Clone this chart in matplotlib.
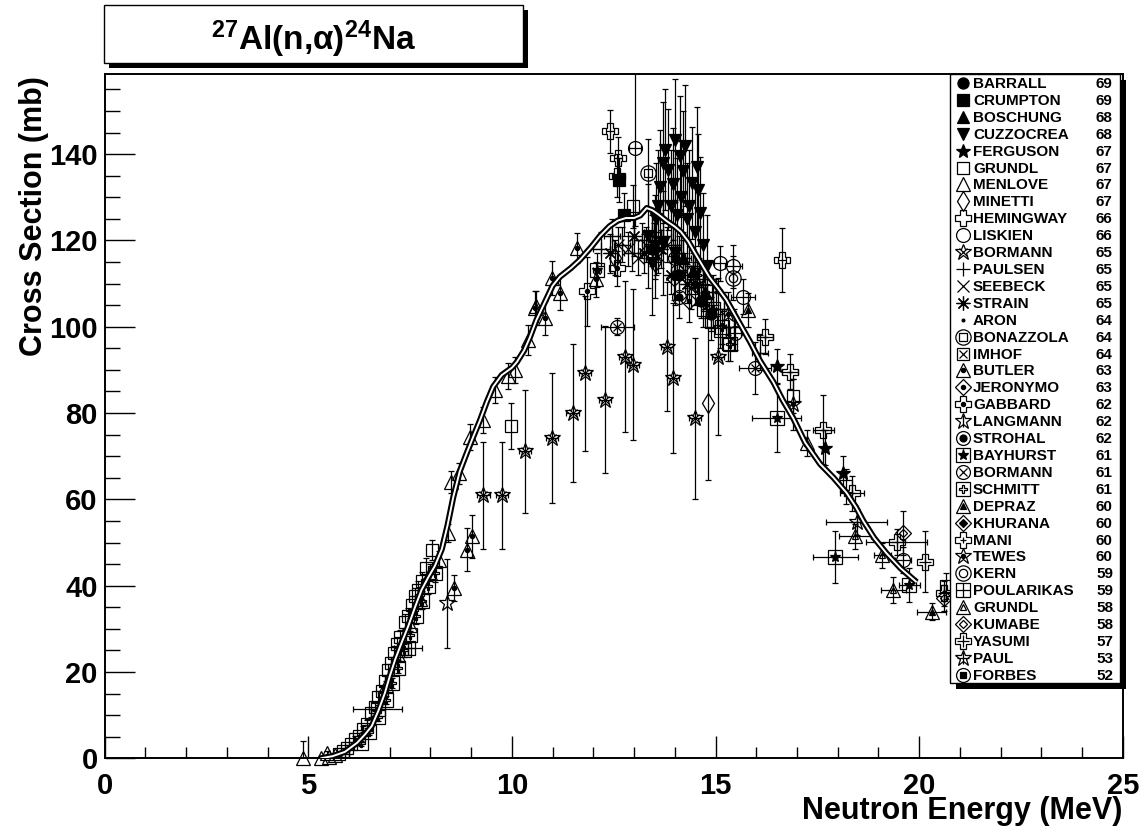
import matplotlib
matplotlib.use('Agg')
import matplotlib.pyplot as plt
from matplotlib.patches import Rectangle
from matplotlib.ticker import MultipleLocator
import numpy as np

plt.rcParams['font.family'] = ['Liberation Sans', 'DejaVu Sans']
plt.rcParams['font.weight'] = 'bold'
plt.rcParams['mathtext.fontset'] = 'custom'
plt.rcParams['mathtext.rm'] = 'Liberation Sans'
plt.rcParams['mathtext.bf'] = 'Liberation Sans:bold'
plt.rcParams['mathtext.it'] = 'Liberation Sans:italic'

# ---------------- evaluation curve ----------------
CURVE_E = [5.30, 5.60, 5.90, 6.20, 6.40, 6.56, 6.72, 6.88, 7.00, 7.13, 7.30, 7.45, 7.62, 7.78,
           7.95, 8.11, 8.28, 8.42, 8.56, 8.72, 8.89, 9.05, 9.22, 9.38, 9.54, 9.75, 10.00, 10.12,
           10.30, 10.44, 10.60, 10.80, 11.00, 11.18, 11.45, 11.67, 11.95, 12.16, 12.40, 12.60,
           12.80, 13.00, 13.15, 13.31, 13.45, 13.60, 13.80, 14.00, 14.15, 14.33, 14.50, 14.66,
           14.85, 15.07, 15.27, 15.55, 15.85, 16.10, 16.42, 16.65, 16.91, 17.20, 17.57, 17.90,
           18.22, 18.45, 18.63, 18.90, 19.20, 19.55, 19.94]
CURVE_S = [0.0, 0.5, 1.5, 3.6, 5.6, 7.5, 11.0, 15.1, 19.0, 22.8, 27.0, 30.5, 35.0, 39.0,
           42.0, 44.6, 48.5, 54.0, 60.5, 66.5, 70.7, 74.5, 78.4, 82.5, 86.1, 88.8, 90.5, 91.8,
           94.5, 97.5, 101.5, 105.5, 109.5, 111.6, 113.6, 115.5, 118.5, 121.0, 123.3, 124.6,
           125.2, 125.2, 125.8, 127.5, 127.0, 126.0, 124.5, 123.2, 122.0, 119.8, 117.0, 114.5,
           111.5, 108.8, 106.2, 101.5, 96.5, 92.0, 87.2, 83.0, 78.8, 73.2, 68.2, 65.0,
           61.5, 58.2, 55.0, 51.0, 47.5, 44.0, 40.8]

# ---------------- experimental data sets ----------------
BARRALL_E = [13.45, 14.10, 14.65, 14.90]
BARRALL_S = [118.0, 112.0, 106.0, 103.0]
BARRALL_DS = [4, 4, 4, 4]

CRUMPTON_E = [12.62, 12.75]
CRUMPTON_S = [134.0, 126.0]
CRUMPTON_DS = [5, 5]

BOSCHUNG_E = [14.20, 14.45, 14.75]
BOSCHUNG_S = [116.0, 113.0, 108.0]
BOSCHUNG_DS = [4, 4, 4]

CUZZOCREA_E = [13.35, 13.43, 13.51, 13.55, 13.60, 13.64, 13.70, 13.72, 13.76, 13.84, 13.90,
               13.95, 14.00, 14.00, 14.05, 14.13, 14.15, 14.20, 14.25, 14.30, 14.35, 14.42,
               14.50, 14.55, 14.58, 14.62, 14.70, 14.80]
CUZZOCREA_S = [121.0, 114.8, 118.6, 125.0, 128.0, 132.5, 138.0, 119.4, 141.0, 136.4, 128.0,
               133.0, 143.3, 117.0, 126.0, 139.5, 130.0, 136.0, 142.0, 125.0, 128.0, 133.3,
               122.0, 137.0, 131.7, 126.3, 119.0, 114.0]
CUZZOCREA_DS = [12, 12, 12, 13, 13, 13, 14, 12, 14, 14, 13,
                13, 14, 12, 13, 14, 13, 14, 14, 13, 13, 13,
                12, 14, 13, 13, 12, 12]

FERGUSON_E = [16.50, 17.70, 18.14]
FERGUSON_S = [90.8, 72.0, 66.0]
FERGUSON_DS = [4, 4, 4]

GRUNDL67_E = [5.75, 5.85, 5.95, 6.05, 6.15, 6.25, 6.35, 6.45, 6.55, 6.65, 6.72, 6.80, 6.88,
              6.95, 7.02, 7.10, 7.18, 7.25, 7.37, 7.45, 7.55, 7.62, 7.70, 7.80, 7.90, 8.03,
              9.99, 12.98, 14.70, 14.90, 15.10, 15.30, 16.90, 18.20, 20.65]
GRUNDL67_S = [1.0, 1.8, 2.5, 3.2, 4.4, 5.2, 6.8, 8.0, 10.5, 12.0, 14.3, 15.5, 18.0,
              20.5, 22.0, 24.5, 26.5, 28.0, 31.7, 33.0, 35.5, 37.5, 39.0, 41.0, 44.0, 48.3,
              77.0, 127.9, 103.9, 101.0, 99.0, 96.0, 84.0, 63.0, 40.0]
GRUNDL67_DS = [0.4, 0.5, 0.5, 0.6, 0.7, 0.7, 0.8, 0.9, 1.0, 1.0, 1.2, 1.2, 1.3,
               1.4, 1.5, 1.5, 1.6, 1.7, 1.8, 1.9, 2.0, 2.0, 2.1, 2.2, 2.3, 2.3,
               5.3, 5.0, 4.0, 4.0, 4.0, 4.0, 4.0, 4.0, 3.0]

MENLOVE_E = [4.87, 5.30, 5.45, 5.50, 5.66, 6.90, 7.20, 7.50, 7.75, 8.00, 8.20, 8.44, 8.50,
             8.70, 8.97, 9.30, 9.58, 9.91, 10.08, 10.40, 10.60]
MENLOVE_S = [0.0, 0.0, 1.2, 0.2, 0.8, 17.0, 24.0, 31.0, 37.0, 43.0, 46.0, 52.2, 64.0,
             66.0, 74.5, 78.4, 85.4, 88.5, 90.0, 97.0, 104.7]
MENLOVE_DS = [4.0, 0.5, 0.5, 0.5, 0.5, 1.0, 1.2, 1.5, 1.8, 2.0, 2.0, 2.0, 2.5,
              2.5, 3.0, 3.0, 3.0, 3.0, 3.0, 3.5, 3.5]

MINETTI_E = [12.52, 13.52, 14.81]
MINETTI_S = [116.0, 115.1, 82.3]
MINETTI_DS = [4, 4, 17.7]

HEMINGWAY_E = [12.41, 12.57, 12.61, 16.63]
HEMINGWAY_S = [145.3, 135.0, 139.0, 115.5]
HEMINGWAY_DE = [0.1, 0.1, 0.1, 0.1]
HEMINGWAY_DS = [5, 5, 5, 7.4]

LISKIEN_E = [13.02, 15.11, 15.44, 15.68, 15.48, 19.60]
LISKIEN_S = [141.4, 114.7, 114.0, 107.0, 98.5, 46.0]
LISKIEN_DE = [0.15, 0.15, 0.2, 0.3, 0.15, 0.2]
LISKIEN_DS = [18, 4, 5, 4, 4, 3]

BORMANN65_E = [9.30, 9.75, 10.32, 10.98, 11.49, 11.80, 12.29, 12.78, 12.98, 13.80, 13.96, 14.50, 15.07]
BORMANN65_S = [61.0, 61.0, 71.1, 74.2, 80.1, 89.2, 83.1, 93.1, 91.2, 95.4, 88.1, 78.8, 93.1]
BORMANN65_DE = [0.15, 0.15, 0.15, 0.15, 0.15, 0.15, 0.15, 0.15, 0.15, 0.15, 0.15, 0.15, 0.15]
BORMANN65_DS = [12.4, 12.4, 14.3, 15.0, 16.0, 18.0, 17.0, 17.5, 17.5, 15.0, 17.4, 18.7, 18.2]

PAULSEN_E = [12.20, 12.45, 12.70, 12.95, 13.20, 13.45, 13.70, 13.95, 14.20, 14.45, 14.70, 14.95, 15.20, 15.45, 16.10]
PAULSEN_S = [118, 121, 119, 117, 120, 122, 121, 119, 116, 114, 111, 108, 104, 100, 94]
PAULSEN_DE = [0.2, 0.2, 0.2, 0.2, 0.2, 0.2, 0.2, 0.2, 0.2, 0.2, 0.2, 0.2, 0.2, 0.2, 0.2]
PAULSEN_DS = [4, 4, 4, 4, 4, 4, 4, 4, 4, 4, 4, 4, 4, 4, 4]

SEEBECK_E = [12.60, 12.85, 13.10, 13.30, 13.60, 13.80, 14.05, 14.25, 14.60]
SEEBECK_S = [119.0, 118.0, 116.0, 119.0, 116.5, 119.0, 115.0, 113.0, 110.0]
SEEBECK_DS = [4, 4, 4, 4, 4, 4, 4, 4, 4]

STRAIN_E = [12.40, 13.00, 13.25, 13.65, 13.90, 14.30]
STRAIN_S = [117.0, 121.0, 117.0, 118.0, 112.0, 110.0]
STRAIN_DS = [4.5, 4.5, 4.5, 4.5, 4.5, 4.5]

ARON_E = [13.50, 14.10, 14.60, 15.00]
ARON_S = [121.0, 118.0, 113.0, 108.0]
ARON_DS = [3, 3, 3, 3]

BONAZZOLA_E = [13.35]
BONAZZOLA_S = [135.6]
BONAZZOLA_DS = [8]

IMHOF_E = [14.40, 14.80]
IMHOF_S = [109.0, 105.0]
IMHOF_DS = [5, 5]

BUTLER_E = [8.57, 8.89, 9.01, 10.57, 10.81, 10.98, 11.18, 11.59, 12.07]
BUTLER_S = [39.5, 48.3, 51.4, 104.3, 102.0, 111.3, 107.8, 118.2, 111.0]
BUTLER_DS = [3, 5, 5, 4, 4, 4, 4, 3.5, 4]

JERONYMO_E = [13.99, 14.35]
JERONYMO_S = [111.3, 106.0]
JERONYMO_DS = [5, 5]

GABBARD_E = [11.84, 12.57]
GABBARD_S = [108.2, 113.5]
GABBARD_DS = [8, 4]

LANGMANN_E = [8.40]
LANGMANN_S = [35.9]
LANGMANN_DS = [10.3]

STROHAL_E = [14.10]
STROHAL_S = [107.0]
STROHAL_DS = [5]

BAYHURST_E = [12.08, 16.50, 17.94, 19.76]
BAYHURST_S = [113.2, 78.9, 46.7, 40.2]
BAYHURST_DE = [0.1, 0.6, 0.55, 0.25]
BAYHURST_DS = [4, 8, 6, 4]

BORMANN61_E = [12.59, 15.97]
BORMANN61_S = [100.0, 90.4]
BORMANN61_DE = [0.4, 0.4]
BORMANN61_DS = [2, 6]

SCHMITT_E = [6.30, 6.50, 6.70, 6.90, 7.05, 7.20, 7.35, 7.50, 7.65, 7.80, 7.95, 8.10,
             14.55, 14.75, 14.95, 15.15, 15.35]
SCHMITT_S = [3.5, 6.0, 9.5, 13.5, 17.5, 21.0, 25.0, 28.5, 33.0, 36.5, 40.0, 43.0,
             112.0, 108.0, 104.0, 100.0, 96.0]
SCHMITT_DS = [0.6, 0.7, 0.9, 1.0, 1.2, 1.3, 1.5, 1.6, 1.8, 1.9, 2.0, 2.2, 4, 4, 4, 4, 4]

DEPRAZ_E = [15.80, 20.31]
DEPRAZ_S = [103.9, 34.0]
DEPRAZ_DE = [0.0, 0.35]
DEPRAZ_DS = [4, 2]

KHURANA_E = [14.50]
KHURANA_S = [110.0]
KHURANA_DS = [5]

MANI_E = [16.22, 16.83, 17.65, 18.35]
MANI_S = [97.7, 89.6, 76.1, 61.4]
MANI_DE = [0.2, 0.2, 0.25, 0.3]
MANI_DS = [4, 4, 8, 4]

TEWES_E = [15.30, 16.90]
TEWES_S = [103.0, 82.0]
TEWES_DS = [5, 6]

KERN_E = [15.44]
KERN_S = [111.3]
KERN_DS = [5]

POULARIKAS_E = [6.70, 7.45]
POULARIKAS_S = [11.4, 25.5]
POULARIKAS_DE = [0.6, 0.35]
POULARIKAS_DS = [1.0, 1.5]

GRUNDL58_E = [17.24, 18.43, 19.10, 19.37]
GRUNDL58_S = [73.0, 51.4, 47.0, 39.0]
GRUNDL58_DE = [0.0, 0.4, 0.2, 0.3]
GRUNDL58_DS = [3, 3, 3, 3]

KUMABE_E = [19.60, 20.60]
KUMABE_S = [52.2, 37.1]
KUMABE_DS = [5, 3]

YASUMI_E = [19.45, 20.14, 20.60]
YASUMI_S = [50.2, 45.6, 38.2]
YASUMI_DE = [0.75, 0.0, 0.0]
YASUMI_DS = [3, 7, 3]

PAUL_E = [18.47]
PAUL_S = [54.8]
PAUL_DE = [0.75]
PAUL_DS = [3]

FORBES_E = [14.00]
FORBES_S = [116.0]
FORBES_DS = [3]

# marker layers: (marker, size, face)
STYLES = {
    'BARRALL': [('o', 8, 'k')],
    'CRUMPTON': [('s', 8, 'k')],
    'BOSCHUNG': [('^', 9, 'k')],
    'CUZZOCREA': [('v', 9, 'k')],
    'FERGUSON': [('*', 10, 'k')],
    'GRUNDL67': [('s', 9, 'none')],
    'MENLOVE': [('^', 10, 'none')],
    'MINETTI': [('d', 10, 'none')],
    'HEMINGWAY': [('P', 11, 'none')],
    'LISKIEN': [('o', 10, 'none')],
    'BORMANN65': [('*', 12, 'none'), ('x', 6, 'none')],
    'PAULSEN': [('+', 10, 'none')],
    'SEEBECK': [('x', 9, 'none')],
    'STRAIN': [((8, 2, 0), 10, 'none')],
    'ARON': [('.', 4, 'k')],
    'BONAZZOLA': [('o', 11, 'none'), ('s', 6, 'none')],
    'IMHOF': [('s', 9, 'none'), ('x', 6, 'none')],
    'BUTLER': [('^', 10, 'none'), ('o', 3, 'k')],
    'JERONYMO': [('D', 8, 'none'), ('o', 3, 'k')],
    'GABBARD': [('P', 11, 'none'), ('o', 3, 'k')],
    'LANGMANN': [('*', 12, 'none'), ('|', 8, 'none')],
    'STROHAL': [('o', 10, 'none'), ('o', 5, 'k')],
    'BAYHURST': [('s', 10, 'none'), ('*', 8, 'k')],
    'BORMANN61': [('o', 10, 'none'), ('x', 6, 'none')],
    'SCHMITT': [('s', 10, 'none'), ('P', 6, 'none')],
    'DEPRAZ': [('^', 10, 'none'), ('^', 4, 'k')],
    'KHURANA': [('D', 8, 'none'), ('D', 4, 'k')],
    'MANI': [('P', 11, 'none'), ('+', 5, 'none')],
    'TEWES': [('*', 12, 'none'), ('o', 3, 'k')],
    'KERN': [('o', 11, 'none'), ('o', 6, 'none')],
    'POULARIKAS': [('s', 10, 'none'), ('+', 10, 'none')],
    'GRUNDL58': [('^', 10, 'none'), ('^', 5, 'none')],
    'KUMABE': [('D', 8, 'none'), ('D', 4, 'none')],
    'YASUMI': [('P', 11, 'none'), ('+', 8, 'none')],
    'PAUL': [('*', 12, 'none'), ('+', 8, 'none')],
    'FORBES': [('o', 10, 'none'), ('s', 5, 'k')],
}

DATASETS = [
    ('BARRALL', '69', BARRALL_E, BARRALL_S, None, BARRALL_DS, 'BARRALL'),
    ('CRUMPTON', '69', CRUMPTON_E, CRUMPTON_S, None, CRUMPTON_DS, 'CRUMPTON'),
    ('BOSCHUNG', '68', BOSCHUNG_E, BOSCHUNG_S, None, BOSCHUNG_DS, 'BOSCHUNG'),
    ('CUZZOCREA', '68', CUZZOCREA_E, CUZZOCREA_S, None, CUZZOCREA_DS, 'CUZZOCREA'),
    ('FERGUSON', '67', FERGUSON_E, FERGUSON_S, None, FERGUSON_DS, 'FERGUSON'),
    ('GRUNDL', '67', GRUNDL67_E, GRUNDL67_S, None, GRUNDL67_DS, 'GRUNDL67'),
    ('MENLOVE', '67', MENLOVE_E, MENLOVE_S, None, MENLOVE_DS, 'MENLOVE'),
    ('MINETTI', '67', MINETTI_E, MINETTI_S, None, MINETTI_DS, 'MINETTI'),
    ('HEMINGWAY', '66', HEMINGWAY_E, HEMINGWAY_S, HEMINGWAY_DE, HEMINGWAY_DS, 'HEMINGWAY'),
    ('LISKIEN', '66', LISKIEN_E, LISKIEN_S, LISKIEN_DE, LISKIEN_DS, 'LISKIEN'),
    ('BORMANN', '65', BORMANN65_E, BORMANN65_S, BORMANN65_DE, BORMANN65_DS, 'BORMANN65'),
    ('PAULSEN', '65', PAULSEN_E, PAULSEN_S, PAULSEN_DE, PAULSEN_DS, 'PAULSEN'),
    ('SEEBECK', '65', SEEBECK_E, SEEBECK_S, None, SEEBECK_DS, 'SEEBECK'),
    ('STRAIN', '65', STRAIN_E, STRAIN_S, None, STRAIN_DS, 'STRAIN'),
    ('ARON', '64', ARON_E, ARON_S, None, ARON_DS, 'ARON'),
    ('BONAZZOLA', '64', BONAZZOLA_E, BONAZZOLA_S, None, BONAZZOLA_DS, 'BONAZZOLA'),
    ('IMHOF', '64', IMHOF_E, IMHOF_S, None, IMHOF_DS, 'IMHOF'),
    ('BUTLER', '63', BUTLER_E, BUTLER_S, None, BUTLER_DS, 'BUTLER'),
    ('JERONYMO', '63', JERONYMO_E, JERONYMO_S, None, JERONYMO_DS, 'JERONYMO'),
    ('GABBARD', '62', GABBARD_E, GABBARD_S, None, GABBARD_DS, 'GABBARD'),
    ('LANGMANN', '62', LANGMANN_E, LANGMANN_S, None, LANGMANN_DS, 'LANGMANN'),
    ('STROHAL', '62', STROHAL_E, STROHAL_S, None, STROHAL_DS, 'STROHAL'),
    ('BAYHURST', '61', BAYHURST_E, BAYHURST_S, BAYHURST_DE, BAYHURST_DS, 'BAYHURST'),
    ('BORMANN', '61', BORMANN61_E, BORMANN61_S, BORMANN61_DE, BORMANN61_DS, 'BORMANN61'),
    ('SCHMITT', '61', SCHMITT_E, SCHMITT_S, None, SCHMITT_DS, 'SCHMITT'),
    ('DEPRAZ', '60', DEPRAZ_E, DEPRAZ_S, DEPRAZ_DE, DEPRAZ_DS, 'DEPRAZ'),
    ('KHURANA', '60', KHURANA_E, KHURANA_S, None, KHURANA_DS, 'KHURANA'),
    ('MANI', '60', MANI_E, MANI_S, MANI_DE, MANI_DS, 'MANI'),
    ('TEWES', '60', TEWES_E, TEWES_S, None, TEWES_DS, 'TEWES'),
    ('KERN', '59', KERN_E, KERN_S, None, KERN_DS, 'KERN'),
    ('POULARIKAS', '59', POULARIKAS_E, POULARIKAS_S, POULARIKAS_DE, POULARIKAS_DS, 'POULARIKAS'),
    ('GRUNDL', '58', GRUNDL58_E, GRUNDL58_S, GRUNDL58_DE, GRUNDL58_DS, 'GRUNDL58'),
    ('KUMABE', '58', KUMABE_E, KUMABE_S, None, KUMABE_DS, 'KUMABE'),
    ('YASUMI', '57', YASUMI_E, YASUMI_S, YASUMI_DE, YASUMI_DS, 'YASUMI'),
    ('PAUL', '53', PAUL_E, PAUL_S, PAUL_DE, PAUL_DS, 'PAUL'),
    ('FORBES', '52', FORBES_E, FORBES_S, None, FORBES_DS, 'FORBES'),
]

# ---------------- figure ----------------
W, H = 1146, 832
fig = plt.figure(figsize=(W / 100, H / 100), dpi=100)
L, R, T, B = 104.7, 1122.7, 74.3, 758.3
ax = fig.add_axes([L / W, 1 - B / H, (R - L) / W, (B - T) / H])
ax.set_xlim(0, 25)
ax.set_ylim(0, 158.5)

EB = dict(fmt='none', ecolor='k', elinewidth=0.9, capsize=2.5, capthick=0.9, zorder=2)


def draw_set(E, S, dE, dS, layers):
    E = np.asarray(E, float)
    S = np.asarray(S, float)
    if dS is not None:
        ax.errorbar(E, S, yerr=np.asarray(dS, float), **EB)
    if dE is not None:
        dE = np.asarray(dE, float)
        m = dE > 0
        if m.any():
            ax.errorbar(E[m], S[m], xerr=dE[m], **EB)
    for mk, ms, fc in layers:
        ax.plot(E, S, ls='none', marker=mk, ms=ms, mfc=fc, mec='k', mew=0.9,
                zorder=3, clip_on=False)


for name, yr, E, S, dE, dS, sk in DATASETS:
    draw_set(E, S, dE, dS, STYLES[sk])

ax.plot(CURVE_E, CURVE_S, color='k', lw=4.4, zorder=5, solid_capstyle='butt')
ax.plot(CURVE_E, CURVE_S, color='w', lw=1.4, zorder=6, solid_capstyle='butt')

for sp in ax.spines.values():
    sp.set_linewidth(1.4)
ax.xaxis.set_major_locator(MultipleLocator(5))
ax.xaxis.set_minor_locator(MultipleLocator(1))
ax.yaxis.set_major_locator(MultipleLocator(20))
ax.yaxis.set_minor_locator(MultipleLocator(5))
ax.tick_params(axis='x', which='major', direction='in', length=15.8, width=1.0, top=False,
               labelsize=21, pad=10)
ax.tick_params(axis='x', which='minor', direction='in', length=7.9, width=1.0, top=False)
ax.tick_params(axis='y', which='major', direction='in', length=21.6, width=1.0, right=False,
               labelsize=21, pad=5)
ax.tick_params(axis='y', which='minor', direction='in', length=10.8, width=1.0, right=False)

# ---------------- overlay (title box, legend, axis titles) ----------------
ov = fig.add_axes([0, 0, 1, 1], zorder=10)
ov.set_xlim(0, W)
ov.set_ylim(H, 0)
ov.axis('off')

ov.add_patch(Rectangle((109, 10), 419, 58, fc='k', ec='none'))
ov.add_patch(Rectangle((104, 5), 419, 58, fc='w', ec='k', lw=1.0))
ov.text(313.5, 50, r'$^{\mathbf{27}}\mathbf{Al(n{,}}\mathrm{\alpha}\mathbf{)^{24}Na}$',
        ha='center', va='baseline', fontsize=24)

ov.add_patch(Rectangle((956, 80), 170, 609, fc='k', ec='none'))
ov.add_patch(Rectangle((950, 74), 170, 609, fc='w', ec='k', lw=1.0))
for i, (name, yr, E, S, dE, dS, sk) in enumerate(DATASETS):
    y = 83 + i * 16.91
    for mk, ms, fc in STYLES[sk]:
        ov.plot([963], [y], ls='none', marker=mk, ms=ms, mfc=fc, mec='k', mew=0.9)
    ov.text(973, y + 5.0, name, ha='left', va='baseline', fontsize=11)
    ov.text(1096, y + 5.0, yr, ha='left', va='baseline', fontsize=11)

ov.text(1122, 819, 'Neutron Energy (MeV)', ha='right', va='baseline', fontsize=22)
ov.text(34, 76, 'Cross Section (mb)', rotation=90, ha='center', va='top', fontsize=22)

fig.savefig('out.png', dpi=100)
